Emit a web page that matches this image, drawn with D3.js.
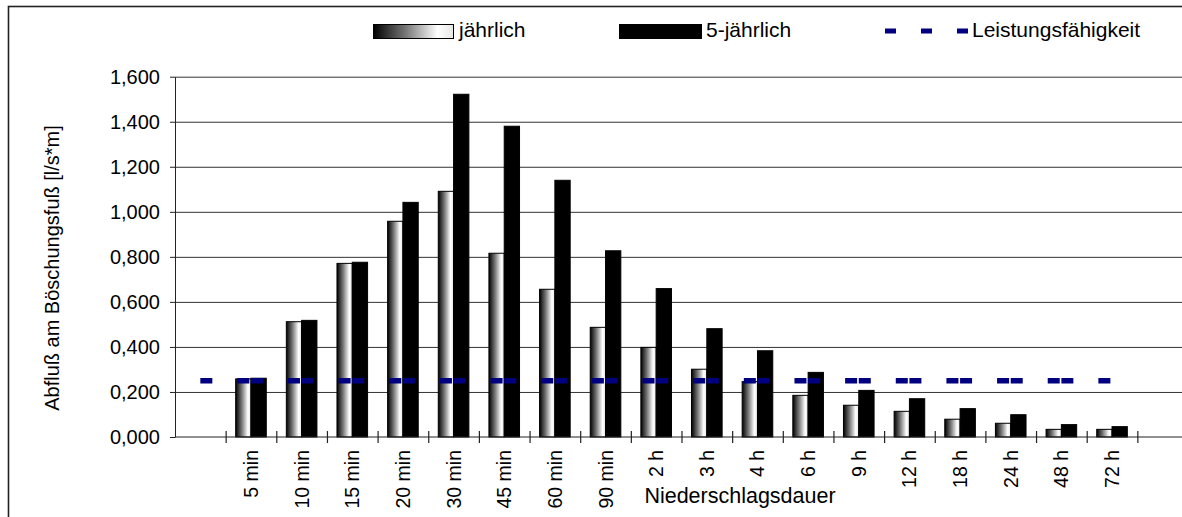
<!DOCTYPE html>
<html>
<head>
<meta charset="utf-8">
<script src="https://cdn.jsdelivr.net/npm/d3@7"></script>
<style>
  html, body { margin: 0; padding: 0; background: #fff; }
  svg { display: block; font-family: "Liberation Sans", Arial, sans-serif; }
</style>
</head>
<body>
<svg id="chart" width="1182" height="517"></svg>
<script>
// Duration categories (first and last slot are empty padding slots)
const durations = ["", "5 min", "10 min", "15 min", "20 min", "30 min", "45 min", "60 min", "90 min",
  "2 h", "3 h", "4 h", "6 h", "9 h", "12 h", "18 h", "24 h", "48 h", "72 h", ""];

// Runoff at the toe of the slope [l/s*m]
const annual = [null, 0.258, 0.512, 0.771, 0.958, 1.091, 0.816, 0.656, 0.487,
  0.398, 0.301, 0.246, 0.185, 0.141, 0.114, 0.079, 0.061, 0.034, 0.034, null];
const fiveYear = [null, 0.261, 0.518, 0.776, 1.042, 1.522, 1.380, 1.140, 0.827,
  0.659, 0.481, 0.383, 0.287, 0.207, 0.170, 0.126, 0.099, 0.055, 0.046, null];
const capacity = [0.25, 0.25, 0.25, 0.25, 0.25, 0.25, 0.25, 0.25, 0.25, 0.25,
  0.25, 0.25, 0.25, 0.25, 0.25, 0.25, 0.25, 0.25, 0.25, null];

const yTicks = [0, 0.2, 0.4, 0.6, 0.8, 1.0, 1.2, 1.4, 1.6];
const seriesNames = ["jährlich", "5-jährlich", "Leistungsfähigkeit"];
const yTitle = "Abfluß am Böschungsfuß [l/s*m]";
const xTitle = "Niederschlagsdauer";

const svg = d3.select("#chart");
const plotLeft = 175, plotTop = 76.7, plotBottom = 437, step = 50.65;

const x = d3.scaleBand().domain(d3.range(durations.length))
  .range([plotLeft, plotLeft + step * durations.length]).paddingInner(0).paddingOuter(0);
const xSub = d3.scaleBand().domain(["a", "f"]).range([0, x.bandwidth()]).paddingInner(0).paddingOuter(0.655);
const y = d3.scaleLinear().domain([0, 1.6]).range([plotBottom, plotTop]);
const fmt = v => d3.format(".3f")(v).replace(".", ",");

// Gradient fill for the annual bars
const defs = svg.append("defs");
const grad = defs.append("linearGradient").attr("id", "annualFill")
  .attr("x1", "0").attr("x2", "1").attr("y1", "0").attr("y2", "0");
grad.append("stop").attr("offset", "0%").attr("stop-color", "#000");
grad.append("stop").attr("offset", "40%").attr("stop-color", "#777");
grad.append("stop").attr("offset", "80%").attr("stop-color", "#fff");
grad.append("stop").attr("offset", "100%").attr("stop-color", "#e6e6e6");

// Outer frame
svg.append("rect").attr("x", 8.5).attr("y", 6.5).attr("width", 1200).attr("height", 530)
  .attr("fill", "none").attr("stroke", "#222").attr("stroke-width", 1.6);

// Horizontal gridlines
svg.append("g").attr("transform", `translate(${plotLeft},0)`)
  .call(d3.axisLeft(y).tickValues(yTicks.slice(1)).tickSize(-(x.range()[1] - plotLeft)).tickFormat(""))
  .call(g => g.select(".domain").remove())
  .call(g => g.selectAll("line").attr("stroke", "#333").attr("stroke-width", 1));

// Y axis
const yAxis = svg.append("g").attr("transform", `translate(${plotLeft},0)`)
  .call(d3.axisLeft(y).tickValues(yTicks).tickSize(5).tickSizeOuter(0).tickPadding(10).tickFormat(fmt));
yAxis.select(".domain").attr("stroke", "#222");
yAxis.selectAll("line").attr("stroke", "#222");
yAxis.selectAll("text").attr("font-size", 20).attr("fill", "#000")
  .attr("font-family", "Liberation Sans, Arial, sans-serif");

// Bars
const idx = d3.range(durations.length).filter(i => annual[i] != null);
svg.append("g").selectAll("rect").data(idx).join("rect")
  .attr("x", i => x(i) + xSub("a")).attr("width", xSub.bandwidth())
  .attr("y", i => y(annual[i])).attr("height", i => y(0) - y(annual[i]))
  .attr("fill", "url(#annualFill)").attr("stroke", "#000").attr("stroke-width", 1);
svg.append("g").selectAll("rect").data(idx).join("rect")
  .attr("x", i => x(i) + xSub("f")).attr("width", xSub.bandwidth())
  .attr("y", i => y(fiveYear[i])).attr("height", i => y(0) - y(fiveYear[i]))
  .attr("fill", "#000").attr("stroke", "#000").attr("stroke-width", 1);

// X axis line with crossing ticks at category boundaries
svg.append("line").attr("x1", plotLeft).attr("x2", x.range()[1]).attr("y1", y(0)).attr("y2", y(0))
  .attr("stroke", "#222").attr("stroke-width", 1.2);
svg.append("g").selectAll("line").data(d3.range(1, durations.length)).join("line")
  .attr("x1", i => x(i) + 0.5).attr("x2", i => x(i) + 0.5)
  .attr("y1", y(0) - 6).attr("y2", y(0) + 6).attr("stroke", "#222").attr("stroke-width", 1.2);

// Category labels (rotated)
svg.append("g").selectAll("text").data(idx).join("text")
  .attr("transform", i => `translate(${x(i) + x.bandwidth() / 2 + 7},450) rotate(-90)`)
  .attr("text-anchor", "end").attr("font-size", 19.5).attr("fill", "#000")
  .text(i => durations[i]);

// Capacity line (dashed)
const bw = x.bandwidth();
const capLine = d3.line().defined(d => d.v != null)
  .x(d => x(d.i) + bw / 2).y(d => y(d.v));
svg.append("path")
  .datum(capacity.map((v, i) => ({ i, v })))
  .attr("d", capLine).attr("fill", "none").attr("stroke", "#000080")
  .attr("stroke-width", 5.5).attr("stroke-dasharray", `12 25 12 ${bw - 49}`);

// Axis titles
svg.append("text").attr("transform", `translate(59,268) rotate(-90)`)
  .attr("text-anchor", "middle").attr("font-size", 20).attr("fill", "#000").text(yTitle);
svg.append("text").attr("x", 740).attr("y", 503)
  .attr("text-anchor", "middle").attr("font-size", 21.5).attr("fill", "#000").text(xTitle);

// Legend
const lg = svg.append("g").attr("font-size", 21).attr("fill", "#000");
lg.append("rect").attr("x", 373.5).attr("y", 24.5).attr("width", 80).attr("height", 14)
  .attr("fill", "url(#annualFill)").attr("stroke", "#000").attr("stroke-width", 1);
lg.append("text").attr("x", 459).attr("y", 37).text(seriesNames[0]);
lg.append("rect").attr("x", 619.5).attr("y", 24.5).attr("width", 82).attr("height", 14)
  .attr("fill", "#000").attr("stroke", "#000").attr("stroke-width", 1);
lg.append("text").attr("x", 706).attr("y", 37).text(seriesNames[1]);
lg.append("line").attr("x1", 885).attr("x2", 969).attr("y1", 31).attr("y2", 31)
  .attr("stroke", "#000080").attr("stroke-width", 5).attr("stroke-dasharray", "11 25");
lg.append("text").attr("x", 972).attr("y", 37).text(seriesNames[2]);
</script>
</body>
</html>
